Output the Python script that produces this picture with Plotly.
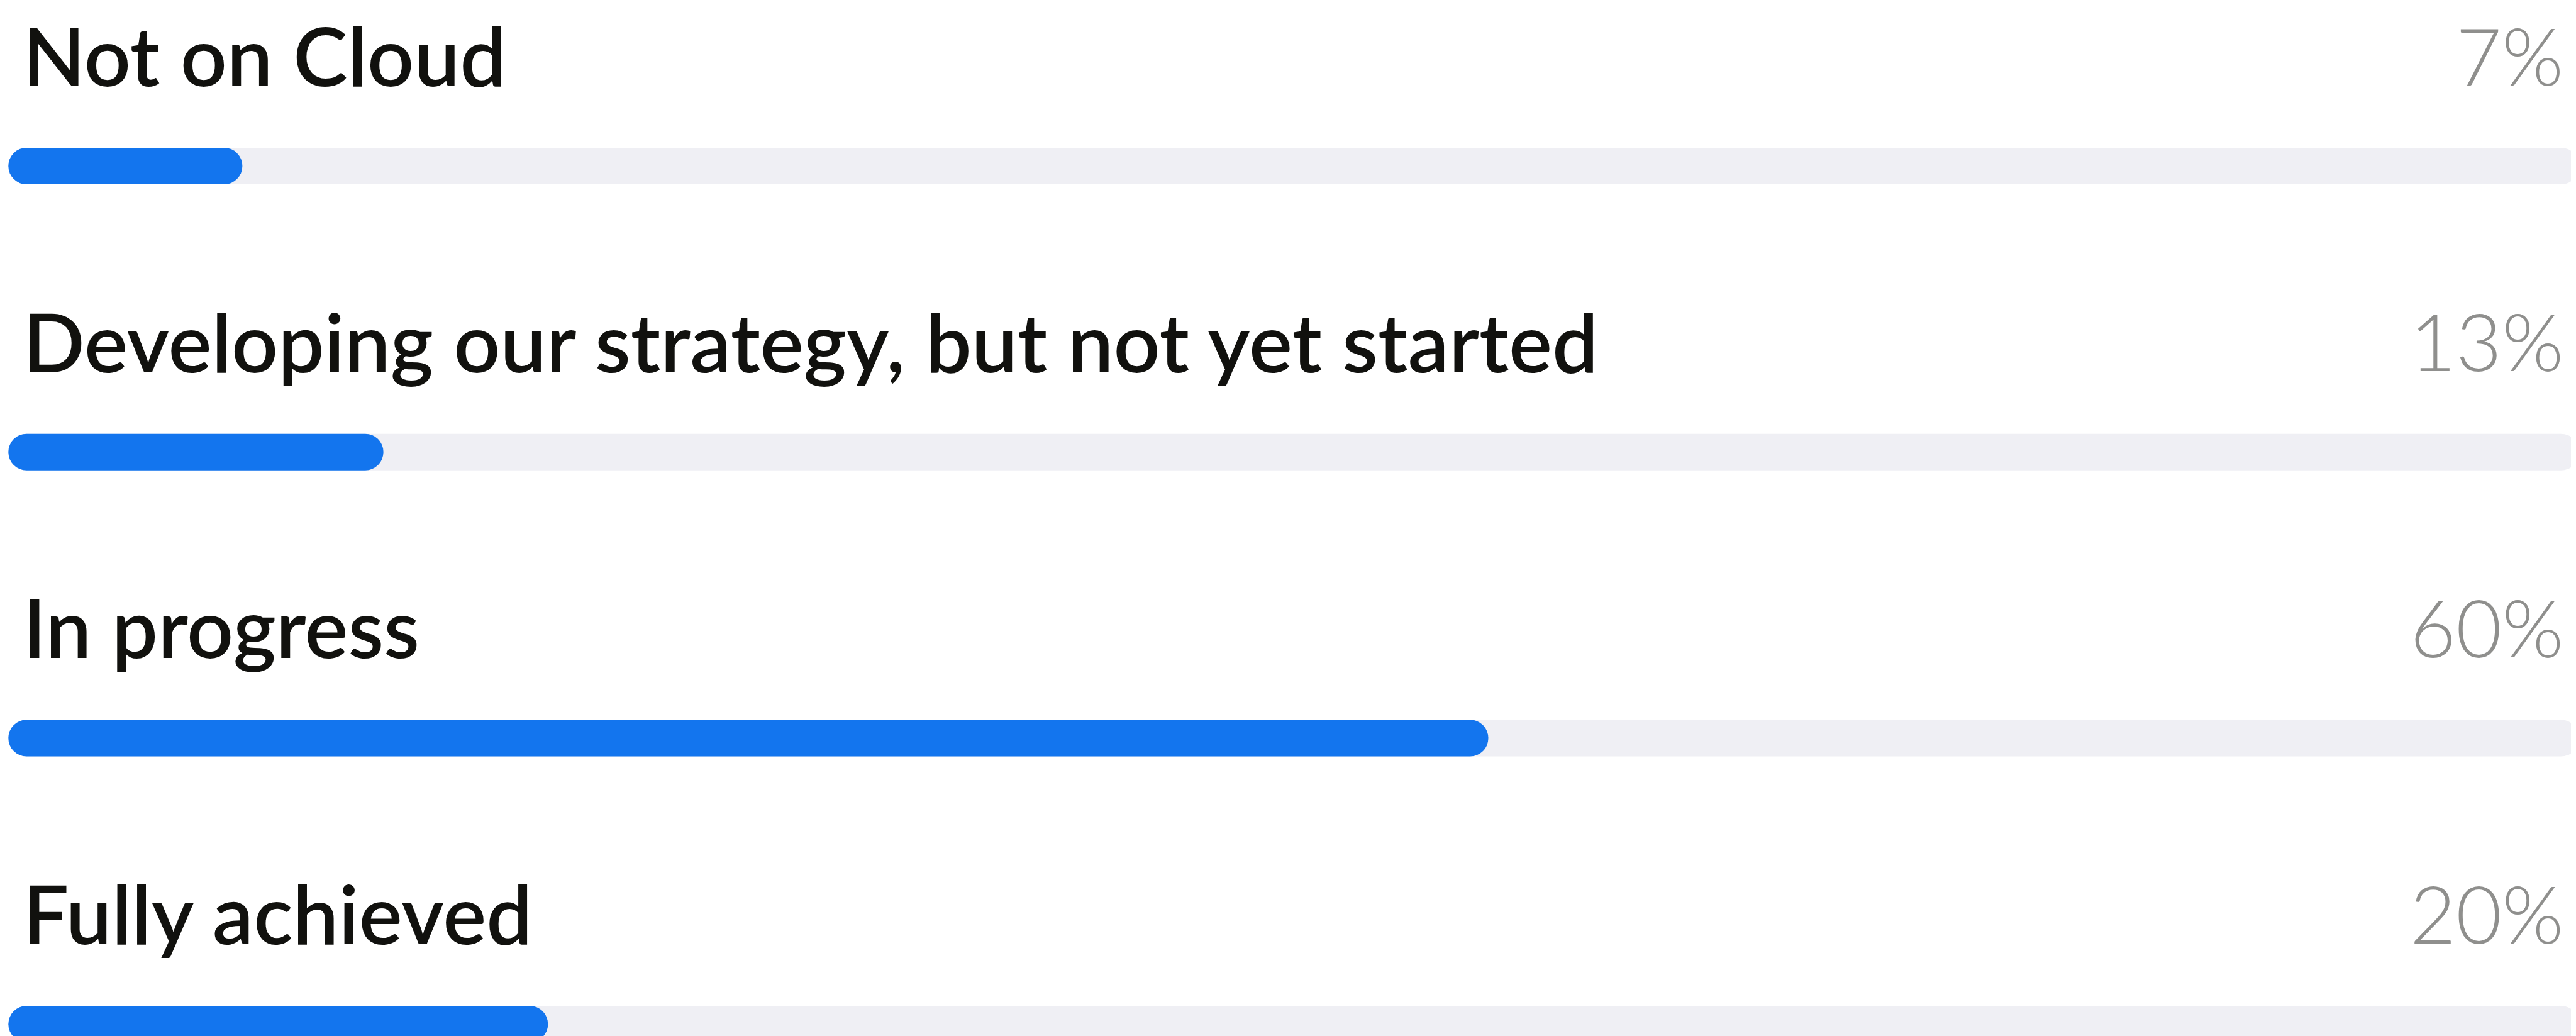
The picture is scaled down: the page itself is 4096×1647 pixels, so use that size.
import plotly.graph_objects as go

# ---- data ----
categories = ["Not on Cloud",
              "Developing our strategy, but not yet started",
              "In progress",
              "Fully achieved"]
values = [7, 13, 60, 20]
value_labels = ["7%", "13%", "60%", "20%"]

# ---- style / layout constants ----
W, H = 4096, 1647
BLUE = "#1375ee"
TRACK = "#efeff4"
LABEL_COLOR = "#11110e"
PCT_COLOR = "#8f8f8d"
X_MIN, X_MAX = -3.095, 106.48      # axis extent (in value units)
CAP = 2.953                         # rounded left cap of the pill
TRACK_END = 106.4
BAR_W = 0.128
rows = list(range(len(categories)))

fig = go.Figure()
fig.add_trace(go.Bar(orientation="h", y=rows, x=[TRACK_END + CAP] * len(rows), base=-CAP,
                     width=BAR_W, marker=dict(color=TRACK, cornerradius="50%", line=dict(width=0)),
                     hoverinfo="skip", showlegend=False))
fig.add_trace(go.Bar(orientation="h", y=rows, x=[v + CAP for v in values], base=-CAP,
                     width=BAR_W, marker=dict(color=BLUE, cornerradius="50%", line=dict(width=0)),
                     hoverinfo="skip", showlegend=False))

annotations = []
for r, cat, lab in zip(rows, categories, value_labels):
    annotations.append(dict(xref="paper", yref="y", x=26 / W, y=r, yshift=177,
                            xanchor="left", yanchor="middle", showarrow=False, text=cat,
                            font=dict(family="Lato", size=130, color=LABEL_COLOR, weight=600)))
    annotations.append(dict(xref="paper", yref="y", x=4070 / W, y=r, yshift=177,
                            xanchor="right", yanchor="middle", showarrow=False, text=lab,
                            font=dict(family="Lato", size=126, color=PCT_COLOR, weight=300)))

fig.update_layout(
    width=W, height=H, margin=dict(l=0, r=0, t=0, b=0),
    paper_bgcolor="white", plot_bgcolor="white",
    barmode="overlay",
    xaxis=dict(range=[X_MIN, X_MAX], visible=False, fixedrange=True),
    yaxis=dict(range=[3.059, -0.563], visible=False, fixedrange=True),
    annotations=annotations,
)
fig.write_html("out.html")
